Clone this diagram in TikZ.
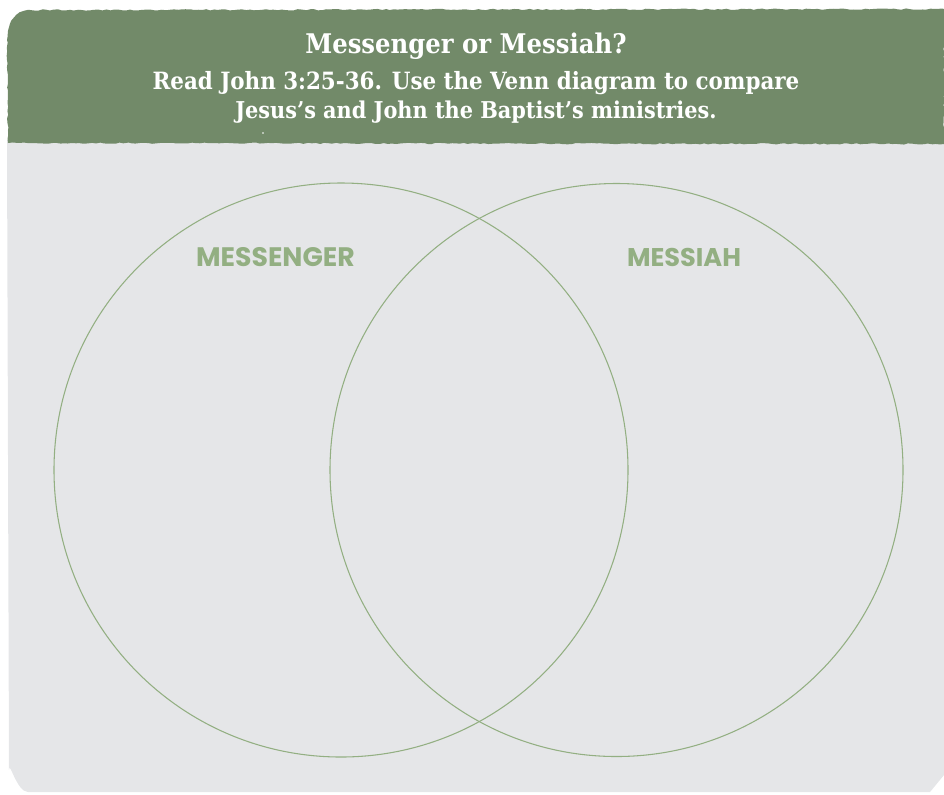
\documentclass[tikz,border=0pt]{standalone}
\usepackage{fontspec}
\setmainfont{DejaVu Serif Condensed}
\newfontfamily\labelfont{Poppins}
\usetikzlibrary{decorations.pathmorphing}
\definecolor{hdrgreen}{HTML}{728A69}
\definecolor{panelgray}{HTML}{E5E6E8}
\definecolor{venngreen}{HTML}{93AF82}
\tikzset{
  titletext/.style={text=white, font=\bfseries, anchor=center, inner sep=0pt},
  venncircle/.style={draw=venngreen, line width=0.8pt},
  vennlabel/.style={text=venngreen, font=\labelfont\bfseries, anchor=center, inner sep=0pt}
}
\begin{document}
\begin{tikzpicture}[x=0.75pt,y=-0.75pt]
\useasboundingbox (0,0) rectangle (944,794);
% panel
\fill[panelgray] (7,140) -- (944,140) -- (944,775) -- (930,792) -- (28,792) to[out=180,in=90] (9,770) -- cycle;
% header band with rough edges
\fill[hdrgreen, decorate, decoration={random steps, segment length=3pt, amplitude=0.5pt}]
  (30,10) -- (944,9) -- (944,144) -- (8,143) -- (7,40) to[out=90,in=180] cycle;
\node[titletext] (title) at (466,46) {\resizebox{241pt}{!}{Messenger or Messiah?}};
\node[titletext] (sub1) at (476,83) {\resizebox{485pt}{!}{Read John 3:25-36. Use the Venn diagram to compare}};
\node[titletext] (sub2) at (476,112) {\resizebox{361pt}{!}{Jesus’s and John the Baptist’s ministries.}};
\fill[white] (263,133) circle (0.8);
% venn
\draw[venncircle] (341,470) circle (287);
\draw[venncircle] (616.5,470) circle (286.5);
\node[vennlabel] (lmess) at (275.5,257) {\resizebox{119pt}{!}{MESSENGER}};
\node[vennlabel] (rmess) at (684,257) {\resizebox{85.5pt}{!}{MESSIAH}};
\end{tikzpicture}
\end{document}
